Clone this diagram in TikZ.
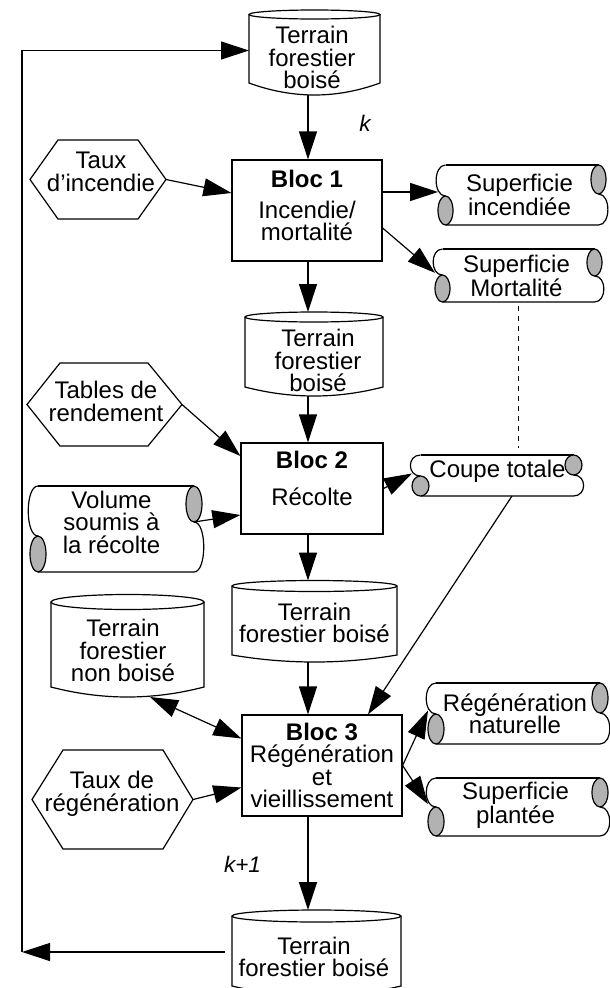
\documentclass[tikz,border=0pt]{standalone}
\usepackage{fontspec}
\setmainfont{Liberation Sans}
\usetikzlibrary{arrows.meta, calc}

\begin{document}
\begin{tikzpicture}[x=1pt, y=-1pt, line width=1.2pt,
        txt/.style={font=\fontsize{24}{22.5}\selectfont, align=center, inner sep=0pt},
        bloc/.style={draw, txt},
        fleche/.style={-{Triangle[length=28pt,width=18pt]}},
        dfleche/.style={{Triangle[length=28pt,width=18pt]}-{Triangle[length=28pt,width=18pt]}},
        rouleau/.style={fill=black!30},
        pointille/.style={line width=1pt, dash pattern=on 5pt off 5pt},
        etiq/.style={font=\fontsize{22.5}{22.5}\selectfont\itshape, inner sep=0pt}]

        \useasboundingbox (0,0) rectangle (610,988);

        % cylindres
        \foreach \nom/\xl/\xr/\ye/\ry/\ys/\yd/\xa/\tx/\ty/\lab in {
            d0/249/380/14.5/4.5/83/95/308/312/57.8/{Terrain\\forestier\\boisé},
            d1/245/383/317/5/387/396/308/318/360.8/{Terrain\\forestier\\boisé},
            d2/232/397/586/5.5/655/662/308/314.5/622.8/{Terrain\\forestier boisé},
            d3/51/204/602/7.5/687/697/150/123/650.8/{Terrain\\forestier\\non boisé},
            d4/232/401/916/6/986/996/308/314/956.8/{Terrain\\forestier boisé}} {
            \draw (\xl,\ye) -- (\xl,\ys) .. controls ({\xl+(\xr-\xl)/3},{\ys+(\yd-\ys)*4/3}) and ({\xl+(\xr-\xl)*2/3},{\ys+(\yd-\ys)*4/3}) .. (\xr,\ys) -- (\xr,\ye);
            \draw ({(\xl+\xr)/2},\ye) ellipse [x radius={(\xr-\xl)/2}, y radius=\ry];
            \node[txt] (\nom) at (\tx,\ty) {\lab};
            \coordinate (\nom-h) at (\xa,{\ye-\ry});
            \coordinate (\nom-b) at (\xa,\yd);
            \coordinate (\nom-o) at (\xl,{\ye+36});
        }

        % hexagones
        \foreach \nom/\xl/\xa/\xb/\xr/\yt/\yb/\tx/\ty/\lab in {
            h1/30/58/138/166/140/219/101/171.8/{Taux\\d’incendie},
            h2/27/60/148/182/363/446/106/401.3/{Tables de\\rendement},
            h3/32/63/163/193/750/849/112/794/{Taux de\\régénération}} {
            \draw (\xl,{(\yt+\yb)/2}) -- (\xa,\yt) -- (\xb,\yt) -- (\xr,{(\yt+\yb)/2}) -- (\xb,\yb) -- (\xa,\yb) -- cycle;
            \node[txt] (\nom) at (\tx,\ty) {\lab};
            \coordinate (\nom-e) at (\xr,{(\yt+\yb)/2});
        }

        % rouleaux
        \foreach \nom/\xl/\xr/\yt/\yb/\rx/\ry/\tx/\ty/\lab in {
            s1/438/606/165/225/7.5/14.5/519.5/195/{Superficie\\incendiée},
            s2/435/602/249/302/7.5/13.5/516.5/276/{Superficie\\Mortalité},
            s3/412/582/455/496/8.5/10/497.5/471/{Coupe totale},
            s4/30/202/486/572/8/18/111.5/522/{Volume\\soumis à\\la récolte},
            s5/428/608/683/744/8/15/515/714/{Régénération\\naturelle},
            s6/428/608/778/836/8/14.5/515.5/805.5/{Superficie\\plantée}} {
            \draw ({\xl+\rx},\yt) -- ({\xr-\rx},\yt);
            \draw ({\xr-\rx},{\yt+2*\ry}) .. controls ({\xr+5},{\yt+2*\ry}) and ({\xr+5},\yb) .. ({\xr-\rx},\yb) -- ({\xl+\rx},\yb);
            \draw ({\xl+\rx},{\yb-2*\ry}) .. controls ({\xl-5},{\yb-2*\ry}) and ({\xl-5},\yt) .. ({\xl+\rx},\yt);
            \draw[rouleau] ({\xr-\rx},{\yt+\ry}) ellipse [x radius=\rx, y radius=\ry];
            \draw[rouleau] ({\xl+\rx},{\yb-\ry}) ellipse [x radius=\rx, y radius=\ry];
            \node[txt] (\nom) at (\tx,\ty) {\lab};
            \coordinate (\nom-o) at (\xl,{\yt+(\yb-\yt)*0.45});
            \coordinate (\nom-e) at ({\xr-\rx},{\yt+2*\ry});
            \coordinate (\nom-s) at ({(\xl+\xr)/2},\yb);
            \coordinate (\nom-n) at ({(\xl+\xr)/2},\yt);
        }

        \node[bloc, minimum width=150, minimum height=101] (b1) at (307,210.5) {\textbf{Bloc 1}\\[8pt]Incendie/\\mortalité\rule[-10pt]{0pt}{10pt}};
        \node[bloc, minimum width=142, minimum height=91] (b2) at (312,488.5) {\textbf{Bloc 2}\\[15pt]Récolte\rule[-20pt]{0pt}{20pt}};
        \node[bloc, minimum width=160, minimum height=101] (b3) at (322,765.5) {\textbf{Bloc 3}\\Régénération\\et\\vieillissement};

        \node[etiq] (k) at (365,123.5) {k};
        \node[etiq] (k1) at (242.5,864.5) {k+1};

        \draw[fleche] (d0-b) -- (d0-b |- b1.north);
        \draw[fleche] (d1-h |- b1.south) -- (d1-h);
        \draw[fleche] (d1-b) -- (d1-b |- b2.north);
        \draw[fleche] (d2-h |- b2.south) -- (d2-h);
        \draw[fleche] (d2-b) -- (d2-b |- b3.north);
        \draw[fleche] (d4-h |- b3.south) -- (d4-h);

        \draw[fleche] (h1-e) -- ([yshift=17.5pt]b1.west);
        \draw[fleche] (h2-e) -- ([yshift=32.5pt]b2.west);
        \draw[fleche] (h3-e) -- ([yshift=-22pt]b3.west);
        \draw[fleche] (s4-e) -- ([yshift=-26.5pt]b2.west);
        \draw[dfleche] (d3-b) -- ([yshift=27pt]b3.west);

        \draw[fleche] (b1.east |- s1-o) -- (s1-o);
        \draw[fleche] ([yshift=-17.5pt]b1.east) -- (s2-o);
        \draw[fleche] (b2.east) -- (s3-o);
        \draw[fleche] (b3.east) -- (s5-o);
        \draw[fleche] (b3.east) -- (s6-o);
        \draw[fleche] ([xshift=15pt]s3-s) -- ([xshift=46pt]b3.north);
        \draw[pointille, shorten <=4pt, shorten >=7pt] (s2-s) -- (s2-s |- s3-n);

        \coordinate (coinbas) at (22,952);
        \coordinate (coinhaut) at (22,50.5);
        \draw[fleche, shorten <=7pt] (d4-o) -- (coinbas);
        \draw[fleche] (coinbas) -- (coinhaut) -- (d0-o);
\end{tikzpicture}
\end{document}
